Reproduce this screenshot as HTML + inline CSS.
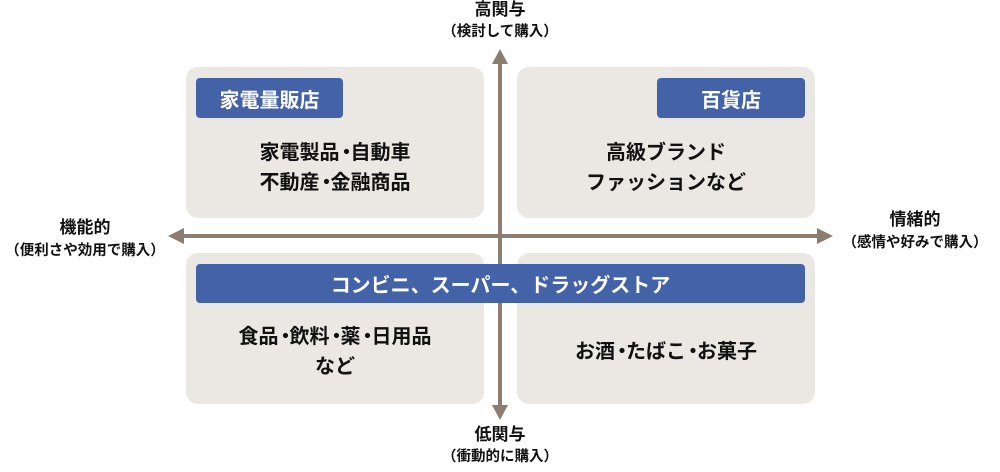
<!DOCTYPE html>
<html><head><meta charset="utf-8"><style>
body{margin:0;width:1000px;height:472px;background:#fff;position:relative;overflow:hidden;font-family:"Liberation Sans","Noto Sans CJK JP",sans-serif;color:#111}
.q{position:absolute;background:#ebe8e4;border-radius:12px;width:298px;height:151px}
.lab{position:absolute;background:#4462a8;color:#fff;border-radius:4px;font-size:20px;font-weight:bold;display:flex;align-items:center;justify-content:center}
.t{position:absolute;text-align:center;font-size:20px;line-height:30px;font-weight:bold}
.s{position:absolute;text-align:center;line-height:20px;font-weight:bold}
.d{letter-spacing:-6px;margin-left:-3px}
</style></head><body>
<div class="q" style="left:186px;top:67px"></div>
<div class="q" style="left:517px;top:67px"></div>
<div class="q" style="left:186px;top:253px"></div>
<div class="q" style="left:517px;top:253px"></div>
<svg style="position:absolute;left:0;top:0" width="1000" height="472">
<line x1="500" y1="62" x2="500" y2="410" stroke="#8b7d70" stroke-width="4"/>
<polygon points="500,49 492,64 508,64" fill="#8b7d70"/>
<polygon points="500,420 492,405 508,405" fill="#8b7d70"/>
<line x1="182" y1="236" x2="820" y2="236" stroke="#8b7d70" stroke-width="4"/>
<polygon points="168,236 184,228 184,244" fill="#8b7d70"/>
<polygon points="833,236 817,228 817,244" fill="#8b7d70"/>
</svg>
<div class="lab" style="left:196px;top:78px;width:147px;height:40px">家電量販店</div>
<div class="lab" style="left:657px;top:78px;width:148px;height:40px">百貨店</div>
<div class="lab" style="left:196px;top:264px;width:609px;height:39px">コンビニ、スーパー、ドラッグストア</div>
<div class="t" style="left:186px;top:138px;width:298px">家電製品<span class="d">・</span>自動車<br>不動産<span class="d">・</span>金融商品</div>
<div class="t" style="left:517px;top:138px;width:298px">高級ブランド<br>ファッションなど</div>
<div class="t" style="left:186px;top:322px;width:298px">食品<span class="d">・</span>飲料<span class="d">・</span>薬<span class="d">・</span>日用品<br>など</div>
<div class="t" style="left:517px;top:337px;width:298px">お酒<span class="d">・</span>たばこ<span class="d">・</span>お菓子</div>
<div class="s" style="left:400px;top:0px;width:200px;font-size:17px">高関与</div>
<div class="s" style="left:400px;top:22px;width:200px;font-size:14.5px">（検討して購入）</div>
<div class="s" style="left:400px;top:425px;width:200px;font-size:17px">低関与</div>
<div class="s" style="left:400px;top:447px;width:200px;font-size:14.5px">（衝動的に購入）</div>
<div class="s" style="left:0px;top:218px;width:170px;font-size:17px">機能的</div>
<div class="s" style="left:0px;top:241px;width:170px;font-size:14.5px">（便利さや効用で購入）</div>
<div class="s" style="left:830px;top:210px;width:170px;font-size:17px">情緒的</div>
<div class="s" style="left:830px;top:233px;width:170px;font-size:14.5px">（感情や好みで購入）</div>
</body></html>
